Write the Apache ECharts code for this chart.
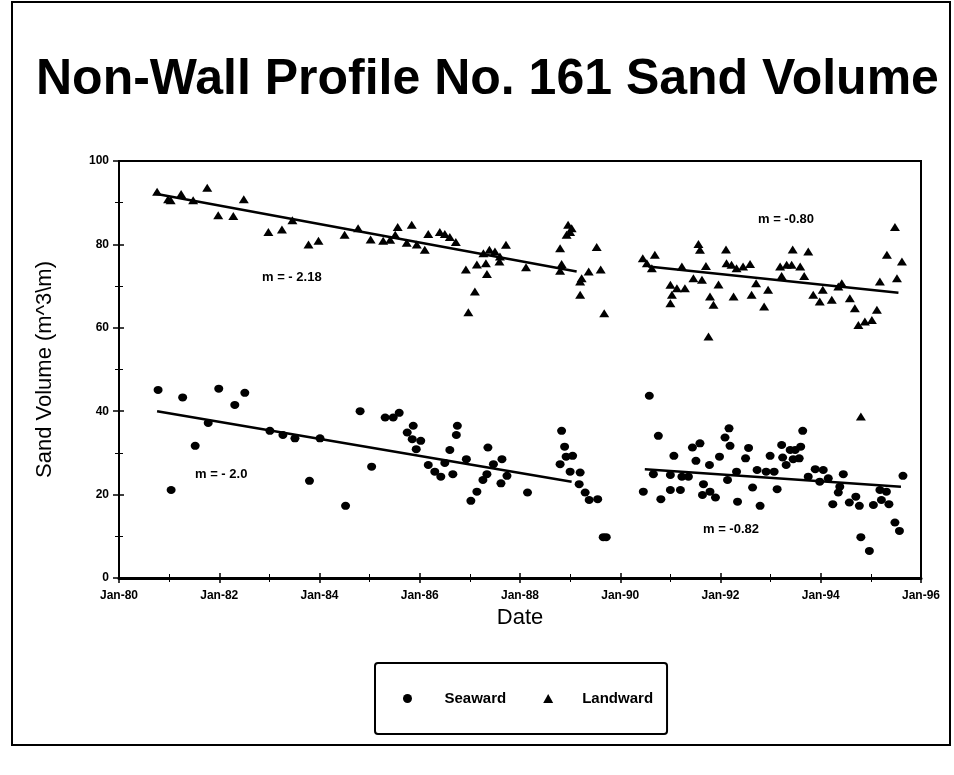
<!DOCTYPE html>
<html>
<head>
<meta charset="utf-8">
<script src="https://cdn.jsdelivr.net/npm/echarts@6/dist/echarts.min.js"></script>
<style>
  html, body { margin: 0; padding: 0; background: #fff; }
  #chart { width: 954px; height: 775px; }
</style>
</head>
<body>
<div id="chart"></div>
<script>
// survey dates as decimal years, volumes in m^3/m
const seawardYears = [
    1980.78, 1981.04, 1981.27, 1981.52, 1981.78, 1981.99, 1982.31, 1982.51, 1983.01, 1983.27,
    1983.51, 1983.80, 1984.01, 1984.52, 1984.81, 1985.04, 1985.31, 1985.47, 1985.59, 1985.75,
    1985.87, 1985.85, 1986.02, 1985.93, 1986.17, 1986.30, 1986.42, 1986.50, 1986.60, 1986.66,
    1986.73, 1986.75, 1986.93, 1987.02, 1987.14, 1987.26, 1987.34, 1987.36, 1987.47, 1987.64,
    1987.62, 1987.74, 1988.15, 1988.83, 1988.89, 1988.92, 1989.05, 1988.80, 1989.00, 1989.20,
    1989.18, 1989.30, 1989.38, 1989.55, 1989.66, 1989.72,
    1990.58, 1990.46, 1990.76, 1990.66, 1990.81, 1991.00, 1991.00, 1991.20, 1991.07, 1991.23,
    1991.36, 1991.44, 1991.59, 1991.51, 1991.66, 1991.64, 1991.79, 1991.78, 1991.90, 1991.98,
    1992.09, 1992.17, 1992.19, 1992.14, 1992.32, 1992.34, 1992.50, 1992.56, 1992.64, 1992.73,
    1992.79, 1992.91, 1992.99, 1993.07, 1993.13, 1993.22, 1993.24, 1993.31, 1993.39, 1993.49,
    1993.45, 1993.57, 1993.60, 1993.64, 1993.75, 1993.89, 1994.05, 1993.98, 1994.15, 1994.24,
    1994.35, 1994.45, 1994.38, 1994.57, 1994.70, 1994.77, 1994.80, 1994.97, 1995.05, 1995.18,
    1995.21, 1995.31, 1995.36, 1995.48, 1995.57, 1995.64
];
const seawardVolumes = [
    45.1, 21.1, 43.3, 31.7, 37.2, 45.4, 41.5, 44.4, 35.3, 34.3,
    33.5, 23.3, 33.5, 17.3, 40.0, 26.7, 38.5, 38.5, 39.6, 34.9,
    36.5, 33.3, 32.9, 30.9, 27.1, 25.5, 24.3, 27.6, 30.7, 24.9,
    34.3, 36.5, 28.5, 18.5, 20.7, 23.5, 24.9, 31.3, 27.3, 28.5,
    22.7, 24.5, 20.5, 35.3, 31.5, 29.1, 29.3, 27.3, 25.5, 25.3,
    22.5, 20.5, 18.7, 18.9, 9.8, 9.8,
    43.7, 20.7, 34.1, 24.9, 18.9, 24.7, 21.1, 21.1, 29.3, 24.3,
    24.3, 31.3, 32.3, 28.1, 22.5, 19.9, 20.7, 27.1, 19.3, 29.1,
    33.7, 35.9, 31.7, 23.5, 25.5, 18.3, 28.7, 31.2, 21.7, 25.9,
    17.3, 25.5, 29.3, 25.5, 21.3, 31.9, 28.9, 27.1, 30.7, 30.7,
    28.5, 28.7, 31.5, 35.3, 24.3, 26.1, 25.9, 23.1, 23.9, 17.7,
    20.5, 24.9, 21.9, 18.1, 19.5, 17.3, 9.8, 6.5, 17.5, 21.1,
    18.7, 20.7, 17.7, 13.3, 11.3, 24.5
];

const landwardYears = [
    1980.76, 1980.98, 1981.03, 1981.24, 1981.48, 1981.76, 1981.98, 1982.28, 1982.49, 1982.98,
    1983.25, 1983.46, 1983.78, 1983.98, 1984.50, 1984.77, 1985.02, 1985.27, 1985.41, 1985.51,
    1985.56, 1985.84, 1985.74, 1985.94, 1986.10, 1986.17, 1986.40, 1986.50, 1986.60, 1986.72,
    1986.92, 1987.10, 1986.97, 1987.14, 1987.32, 1987.34, 1987.27, 1987.39, 1987.50, 1987.60,
    1987.59, 1987.72, 1988.12, 1988.80, 1988.83, 1988.80, 1988.96, 1989.00, 1988.93, 1989.03,
    1989.23, 1989.20, 1989.37, 1989.20, 1989.53, 1989.61, 1989.68,
    1990.45, 1990.69, 1990.53, 1990.63, 1991.23, 1991.00, 1991.13, 1991.29, 1991.03, 1991.00,
    1991.56, 1991.59, 1991.46, 1991.63, 1991.71, 1991.79, 1991.86, 1991.76, 1991.96, 1992.11,
    1992.12, 1992.22, 1992.32, 1992.26, 1992.45, 1992.59, 1992.62, 1992.71, 1992.87, 1992.95,
    1993.19, 1993.32, 1993.42, 1993.59, 1993.44, 1993.75, 1993.22, 1993.67, 1993.85, 1993.98,
    1994.04, 1994.22, 1994.35, 1994.42, 1994.58, 1994.68, 1994.75, 1994.88, 1995.02, 1995.12,
    1995.18, 1995.32, 1995.48, 1995.52, 1995.62, 1994.80
];
const landwardVolumes = [
    92.6, 90.8, 90.6, 92.1, 90.6, 93.6, 87.0, 86.8, 90.8, 83.0,
    83.6, 85.8, 80.0, 80.9, 82.3, 83.9, 81.2, 80.9, 81.1, 82.3,
    84.2, 84.7, 80.4, 80.0, 78.7, 82.5, 83.0, 82.5, 81.8, 80.6,
    74.0, 68.7, 63.7, 75.2, 75.5, 72.9, 77.9, 78.7, 78.3, 77.1,
    75.9, 79.9, 74.5, 79.1, 75.3, 73.7, 84.7, 83.0, 82.3, 83.9,
    71.9, 71.1, 73.5, 67.9, 79.4, 74.0, 63.5,
    76.7, 77.5, 75.5, 74.3, 74.7, 70.3, 69.5, 69.5, 67.9, 65.9,
    80.1, 78.7, 71.9, 71.5, 74.8, 67.5, 65.5, 57.9, 70.4, 78.8,
    75.5, 75.1, 74.3, 67.5, 74.7, 75.3, 67.9, 70.7, 65.1, 69.1,
    74.7, 75.1, 75.1, 74.7, 78.8, 78.3, 72.4, 72.4, 67.9, 66.3,
    69.1, 66.7, 69.9, 70.7, 67.1, 64.7, 60.7, 61.5, 61.9, 64.3,
    71.1, 77.5, 84.2, 71.9, 75.9, 38.7
];

// fitted trend lines (end points)
const seaTrendEarlyYears = [1980.76, 1989.03];
const seaTrendEarlyVolumes = [40.0, 23.1];
const seaTrendLateYears = [1990.49, 1995.60];
const seaTrendLateVolumes = [26.1, 21.9];
const landTrendEarlyYears = [1980.70, 1989.13];
const landTrendEarlyVolumes = [92.2, 73.5];
const landTrendLateYears = [1990.56, 1995.55];
const landTrendLateVolumes = [74.7, 68.4];

const xTickYears = [1980, 1982, 1984, 1986, 1988, 1990, 1992, 1994, 1996];
const xTickLabels = ['Jan-80', 'Jan-82', 'Jan-84', 'Jan-86', 'Jan-88', 'Jan-90', 'Jan-92', 'Jan-94', 'Jan-96'];

function pairs(xs, ys) {
    return xs.map(function (x, i) { return [x, ys[i]]; });
}

function trendSeries(xs, ys) {
    return {
        type: 'line',
        data: pairs(xs, ys),
        showSymbol: false,
        symbol: 'none',
        silent: true,
        lineStyle: { color: '#000', width: 2.5 },
        z: 3
    };
}

const narrow = '"Liberation Sans Narrow", "Liberation Sans", Arial, sans-serif';
const sans = '"Liberation Sans", Arial, sans-serif';

const chart = echarts.init(document.getElementById('chart'), null, { renderer: 'canvas' });

const slopeText = function (text, x, y) {
    return {
        type: 'text',
        left: x,
        top: y,
        style: { text: text, font: 'bold 13px ' + narrow, fill: '#000' }
    };
};

// a second, label-less copy of each axis gives ticks that cross the axis line
const tickOnly = {
    axisLine: { show: false },
    axisLabel: { show: false },
    splitLine: { show: false },
    axisTick: { show: true, inside: true, length: 5, lineStyle: { color: '#000', width: 1.5 } },
    minorTick: { show: true, splitNumber: 2, length: 4, lineStyle: { color: '#000', width: 1 } }
};

const options = {
    backgroundColor: '#fff',
    animation: false,
    title: {
        text: 'Non-Wall Profile No. 161 Sand Volume',
        left: 31,
        top: 50,
        textStyle: { fontFamily: sans, fontWeight: 'bold', fontSize: 50, color: '#000' }
    },
    grid: {
        left: 119, right: 33, top: 161, bottom: 197,
        show: true, borderColor: '#000', borderWidth: 2
    },
    legend: {
        data: [
            { name: 'Seaward' },
            { name: 'Landward', textStyle: { padding: [0, 0, 0, 24] } }
        ],
        left: 375,
        top: 663,
        orient: 'horizontal',
        padding: [28, 14, 28, 28],
        itemGap: 37,
        itemWidth: 10,
        itemHeight: 9,
        borderColor: '#000',
        borderWidth: 2,
        borderRadius: 3,
        textStyle: { fontFamily: narrow, fontWeight: 'bold', fontSize: 15, color: '#000', padding: [0, 0, 0, 27] }
    },
    xAxis: [{
        type: 'value',
        min: 1980,
        max: 1996,
        interval: 2,
        name: 'Date',
        nameLocation: 'middle',
        nameGap: 28,
        nameTextStyle: { fontFamily: sans, fontSize: 22, color: '#000' },
        axisLine: { lineStyle: { color: '#000', width: 3 } },
        axisTick: { length: 5, lineStyle: { color: '#000', width: 1.5 } },
        minorTick: { show: true, splitNumber: 2, length: 4, lineStyle: { color: '#000', width: 1 } },
        splitLine: { show: false },
        axisLabel: {
            margin: 12,
            fontFamily: narrow, fontWeight: 'bold', fontSize: 12, color: '#000',
            formatter: function (v) {
                const i = xTickYears.indexOf(v);
                return i >= 0 ? xTickLabels[i] : '';
            }
        }
    }, Object.assign({ type: 'value', min: 1980, max: 1996, interval: 2, position: 'bottom' }, tickOnly)],
    yAxis: [{
        type: 'value',
        min: 0,
        max: 100,
        interval: 20,
        name: 'Sand Volume (m^3\\m)',
        nameLocation: 'middle',
        nameGap: 63,
        nameTextStyle: { fontFamily: sans, fontSize: 22, color: '#000' },
        axisLine: { show: true, lineStyle: { color: '#000', width: 2 } },
        axisTick: { show: true, length: 6, lineStyle: { color: '#000', width: 1.5 } },
        minorTick: { show: true, splitNumber: 2, length: 4, lineStyle: { color: '#000', width: 1 } },
        splitLine: { show: false },
        axisLabel: { margin: 10, fontFamily: narrow, fontWeight: 'bold', fontSize: 12, color: '#000' }
    }, Object.assign({ type: 'value', min: 0, max: 100, interval: 20, position: 'left' }, tickOnly)],
    graphic: [
        {
            type: 'rect',
            shape: { x: 12, y: 2, width: 938, height: 743 },
            style: { fill: 'none', stroke: '#000', lineWidth: 2 },
            silent: true
        },
        slopeText('m = - 2.18', 262, 271),
        slopeText('m = -0.80', 758, 213),
        slopeText('m = - 2.0', 195, 468),
        slopeText('m = -0.82', 703, 523)
    ],
    series: [
        {
            name: 'Seaward',
            type: 'scatter',
            symbol: 'circle',
            symbolSize: [9, 8],
            itemStyle: { color: '#000', opacity: 1 },
            data: pairs(seawardYears, seawardVolumes),
            z: 4
        },
        {
            name: 'Landward',
            type: 'scatter',
            symbol: 'triangle',
            symbolSize: [10, 8],
            itemStyle: { color: '#000', opacity: 1 },
            data: pairs(landwardYears, landwardVolumes),
            z: 4
        },
        trendSeries(seaTrendEarlyYears, seaTrendEarlyVolumes),
        trendSeries(seaTrendLateYears, seaTrendLateVolumes),
        trendSeries(landTrendEarlyYears, landTrendEarlyVolumes),
        trendSeries(landTrendLateYears, landTrendLateVolumes)
    ]
};

chart.setOption(options);
</script>
</body>
</html>
